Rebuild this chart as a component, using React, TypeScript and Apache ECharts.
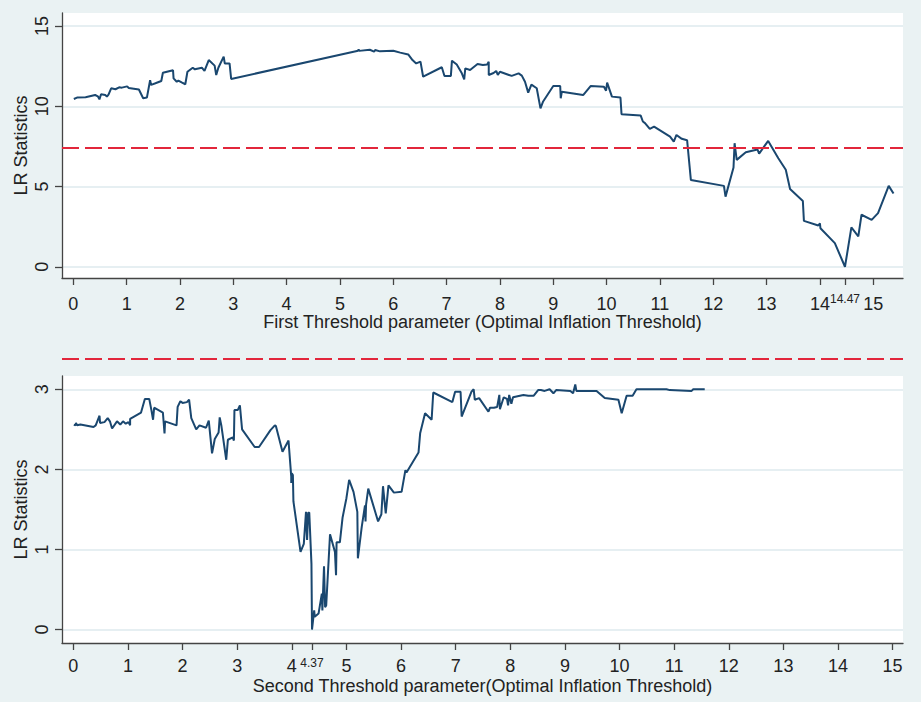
import React, { useEffect, useRef } from "react";
import * as echarts from "echarts";

// ---- Data ----
const firstThreshold = [
  0.01, 0.07, 0.23, 0.41, 0.46, 0.49, 0.52, 0.6, 0.63, 0.66, 0.71, 0.79, 0.86, 0.91, 1.01, 1.04, 1.23, 1.31, 1.38, 1.44,
  1.46, 1.54, 1.65, 1.68, 1.87, 1.88, 1.94, 1.97, 2.04, 2.1, 2.14, 2.24, 2.28, 2.41, 2.46, 2.54, 2.65, 2.68, 2.72, 2.82,
  2.84, 2.93, 2.96, 5.34, 5.35, 5.36, 5.56, 5.64, 5.66, 5.75, 6.0, 6.13, 6.28, 6.36, 6.43, 6.51, 6.56, 6.91, 6.96, 7.08,
  7.1, 7.19, 7.28, 7.33, 7.35, 7.44, 7.58, 7.68, 7.76, 7.79, 7.79, 7.88, 7.93, 7.96, 8.0, 8.22, 8.35, 8.41, 8.47, 8.53,
  8.59, 8.69, 8.76, 8.81, 9.0, 9.13, 9.14, 9.16, 9.56, 9.7, 9.95, 9.99, 10.01, 10.1, 10.26, 10.28, 10.64, 10.68, 10.72,
  10.81, 10.89, 11.19, 11.26, 11.31, 11.41, 11.51, 11.58, 12.2, 12.23, 12.38, 12.4, 12.44, 12.61, 12.83, 12.86, 13.03,
  13.22, 13.36, 13.44, 13.68, 13.7, 13.97, 14.0, 14.01, 14.28, 14.47, 14.59, 14.72, 14.78, 14.97, 15.09, 15.29, 15.38,
];
const firstLR = [
  10.45, 10.54, 10.56, 10.7, 10.62, 10.43, 10.75, 10.7, 10.6, 10.72, 11.12, 11.06, 11.18, 11.16, 11.24, 11.14, 11.04, 10.5,
  10.54, 11.62, 11.33, 11.43, 11.57, 12.09, 12.24, 11.74, 11.53, 11.6, 11.47, 11.37, 12.15, 12.4, 12.3, 12.4, 12.2, 12.88,
  12.53, 11.95, 12.4, 13.09, 12.67, 12.67, 11.7, 13.46, 13.55, 13.45, 13.52, 13.4, 13.5, 13.42, 13.46, 13.34, 13.23, 12.88,
  12.67, 12.78, 11.84, 12.43, 11.89, 11.89, 12.84, 12.6, 12.09, 11.68, 12.36, 12.26, 12.63, 12.57, 12.6, 12.78, 11.95,
  12.07, 12.2, 11.95, 12.15, 11.89, 12.05, 11.91, 11.53, 10.85, 11.35, 11.12, 9.87, 10.3, 11.26, 11.26, 10.5, 10.9, 10.7,
  11.26, 11.22, 10.97, 11.47, 10.6, 10.54, 9.5, 9.42, 9.05, 8.95, 8.59, 8.73, 8.11, 7.8, 8.21, 7.97, 7.88, 5.41, 5.04,
  4.37, 6.18, 7.7, 6.66, 7.14, 7.3, 7.05, 7.84, 6.76, 6.04, 4.85, 4.1, 2.86, 2.57, 2.7, 2.4, 1.47, 0, 2.45, 1.89, 3.24,
  2.92, 3.34, 5.04, 4.56,
];

const secondThreshold = [
  0.01, 0.04, 0.05, 0.07, 0.13, 0.37, 0.41, 0.48, 0.49, 0.57, 0.63, 0.67, 0.71, 0.8, 0.86, 0.91, 0.96, 1.01, 1.04, 1.04,
  1.24, 1.31, 1.39, 1.43, 1.46, 1.48, 1.64, 1.67, 1.68, 1.89, 1.91, 1.96, 2.0, 2.08, 2.12, 2.16, 2.25, 2.31, 2.43, 2.48,
  2.54, 2.59, 2.66, 2.68, 2.71, 2.8, 2.83, 2.92, 2.94, 2.95, 3.01, 3.05, 3.09, 3.32, 3.4, 3.61, 3.69, 3.71, 3.83, 3.94,
  3.99, 3.99, 4.0, 4.02, 4.03, 4.16, 4.22, 4.26, 4.28, 4.3, 4.32, 4.36, 4.37, 4.41, 4.42, 4.49, 4.55, 4.56, 4.59, 4.61,
  4.63, 4.7, 4.79, 4.81, 4.82, 4.88, 4.93, 5.0, 5.05, 5.13, 5.2, 5.21, 5.28, 5.34, 5.35, 5.36, 5.4, 5.58, 5.64, 5.67,
  5.72, 5.77, 5.87, 6.01, 6.08, 6.1, 6.32, 6.35, 6.44, 6.56, 6.59, 6.94, 6.99, 7.09, 7.11, 7.29, 7.33, 7.35, 7.43, 7.6,
  7.63, 7.7, 7.76, 7.8, 7.81, 7.88, 7.94, 7.96, 7.98, 8.02, 8.05, 8.24, 8.33, 8.43, 8.51, 8.56, 8.63, 8.72, 8.79, 8.84,
  9.1, 9.15, 9.19, 9.21, 9.58, 9.73, 9.98, 10.04, 10.13, 10.24, 10.31, 10.86, 10.92, 11.32, 11.35, 11.56,
];
const secondLR = [
  2.56, 2.55, 2.58, 2.55, 2.56, 2.53, 2.55, 2.67, 2.58, 2.59, 2.64, 2.6, 2.51, 2.6, 2.56, 2.6, 2.57, 2.59, 2.55, 2.63,
  2.71, 2.88, 2.88, 2.74, 2.62, 2.77, 2.71, 2.45, 2.6, 2.55, 2.78, 2.85, 2.83, 2.84, 2.87, 2.64, 2.5, 2.55, 2.52, 2.61,
  2.2, 2.38, 2.46, 2.65, 2.55, 2.12, 2.37, 2.4, 2.36, 2.74, 2.74, 2.8, 2.5, 2.28, 2.28, 2.49, 2.55, 2.54, 2.22, 2.36,
  1.91, 1.83, 1.95, 1.93, 1.6, 0.97, 1.07, 1.47, 1.12, 1.46, 1.46, 0.82, 0, 0.24, 0.16, 0.2, 0.45, 0.24, 0.79, 0.28,
  0.3, 1.19, 0.97, 0.68, 1.09, 1.09, 1.4, 1.64, 1.87, 1.72, 1.47, 0.89, 1.28, 1.55, 1.35, 1.56, 1.76, 1.35, 1.44, 1.79,
  1.45, 1.8, 1.71, 1.72, 1.99, 1.96, 2.21, 2.45, 2.7, 2.62, 2.96, 2.84, 2.97, 2.97, 2.66, 2.97, 3.0, 2.87, 2.89, 2.72,
  2.77, 2.77, 2.78, 2.93, 2.75, 2.9, 2.88, 2.8, 2.93, 2.82, 2.9, 2.93, 2.92, 2.92, 2.99, 2.99, 2.98, 3.0, 2.95, 2.99,
  2.98, 2.95, 3.06, 2.98, 2.98, 2.89, 2.87, 2.7, 2.92, 2.92, 3.0, 3.0, 2.99, 2.98, 3.0, 3.0,
];

const xTickValues = [0, 1, 2, 3, 4, 5, 6, 7, 8, 9, 10, 11, 12, 13, 14, 15];
const yTicksFirst = [0, 5, 10, 15];
const yTicksSecond = [0, 1, 2, 3];
const firstEstimate = 14.47;
const secondEstimate = 4.37;
const criticalFirst = 7.39;
const criticalSecond = 3.375;

const xTitleFirst = "First Threshold parameter (Optimal Inflation Threshold)";
const xTitleSecond = "Second Threshold parameter(Optimal Inflation Threshold)";
const yTitle = "LR Statistics";

// ---- Styles ----
const FONT = "Liberation Sans, Arial, sans-serif";
const TEXT = "#222";
const AXIS = "#444";
const LINE = "#1a476f";
const RED = "#e2263b";
const GRIDLINE = "#e6eff2";
const BG = "#eaf2f3";

function zip(xs: number[], ys: number[]) {
  return xs.map((x, i) => [x, ys[i]]);
}

function mainX(gridIndex: number, min: number, max: number, est: number, margin: number, name: string, gap: number) {
  return {
    type: "value",
    gridIndex,
    position: "bottom",
    min,
    max,
    name,
    nameLocation: "middle",
    nameGap: gap,
    nameMoveOverlap: false,
    nameTextStyle: { fontFamily: FONT, fontSize: 18, lineHeight: 14, color: TEXT },
    axisLine: { show: true, onZero: false, lineStyle: { color: AXIS, width: 1.3 } },
    axisTick: { show: true, length: 7, customValues: [...xTickValues, est], lineStyle: { color: AXIS, width: 1.3 } },
    axisLabel: { customValues: xTickValues, margin, fontFamily: FONT, fontSize: 18, lineHeight: 14, color: TEXT },
    splitLine: { show: false },
  };
}

function smallX(gridIndex: number, min: number, max: number, est: number, margin: number) {
  return {
    type: "value",
    gridIndex,
    position: "bottom",
    min,
    max,
    axisLine: { show: false },
    axisTick: { show: false },
    axisLabel: {
      customValues: [est],
      margin,
      fontFamily: FONT,
      fontSize: 12,
      lineHeight: 10,
      color: TEXT,
      formatter: (v: number) => v.toFixed(2),
    },
    splitLine: { show: false },
  };
}

function hiddenX(gridIndex: number, min: number, max: number) {
  return { type: "value", gridIndex, min, max, show: false };
}

function yAx(gridIndex: number, min: number, max: number, ticks: number[]) {
  return {
    type: "value",
    gridIndex,
    min,
    max,
    name: yTitle,
    nameLocation: "middle",
    nameRotate: 90,
    nameGap: 32,
    nameMoveOverlap: false,
    nameTextStyle: { fontFamily: FONT, fontSize: 18, color: TEXT },
    axisLine: { show: true, onZero: false, lineStyle: { color: AXIS, width: 1.3 } },
    axisTick: { show: true, length: 7, customValues: ticks, lineStyle: { color: AXIS, width: 1.3 } },
    axisLabel: { customValues: ticks, rotate: 90, margin: 11, fontFamily: FONT, fontSize: 18, color: TEXT },
    splitLine: { show: true, lineStyle: { color: GRIDLINE, width: 2 } },
  };
}

function critLine(crit: number) {
  return {
    silent: true,
    symbol: "none",
    label: { show: false },
    lineStyle: { color: RED, width: 2, type: [17, 6] },
    data: [{ yAxis: crit }],
  };
}

const TOP_MIN_X = -0.212;
const TOP_MAX_X = 15.558;
const BOT_MIN_X = -0.207;
const BOT_MAX_X = 15.19;
const BOT_MIN_Y = -0.1675;
const BOT_MAX_Y = 3.166;
// overlay grid extends the bottom panel's y-scale upward (same px per unit)
const OVER_TOP = 340;
const BOT_TOP = 376;
const BOT_H = 267;
const OVER_MAX_Y = BOT_MIN_Y + ((BOT_MAX_Y - BOT_MIN_Y) * (BOT_TOP + BOT_H - OVER_TOP)) / BOT_H;

const option = {
  animation: false,
  backgroundColor: BG,
  grid: [
    { left: 62, right: 18, top: 13, height: 265, show: true, backgroundColor: "#fff", borderWidth: 0, outerBoundsMode: "none" },
    { left: 62, right: 18, top: BOT_TOP, height: BOT_H, show: true, backgroundColor: "#fff", borderWidth: 0, outerBoundsMode: "none" },
    { left: 62, right: 18, top: OVER_TOP, height: BOT_TOP + BOT_H - OVER_TOP, show: false, outerBoundsMode: "none" },
  ],
  xAxis: [
    mainX(0, TOP_MIN_X, TOP_MAX_X, firstEstimate, 19, xTitleFirst, 37),
    smallX(0, TOP_MIN_X, TOP_MAX_X, firstEstimate, 16),
    mainX(1, BOT_MIN_X, BOT_MAX_X, secondEstimate, 16, xTitleSecond, 36),
    smallX(1, BOT_MIN_X, BOT_MAX_X, secondEstimate, 15),
    hiddenX(2, BOT_MIN_X, BOT_MAX_X),
  ],
  yAxis: [
    yAx(0, -0.7, 15.81, yTicksFirst),
    yAx(1, BOT_MIN_Y, BOT_MAX_Y, yTicksSecond),
    { type: "value", gridIndex: 2, min: BOT_MIN_Y, max: OVER_MAX_Y, show: false, splitLine: { show: false } },
  ],
  series: [
    {
      type: "line",
      xAxisIndex: 0,
      yAxisIndex: 0,
      data: zip(firstThreshold, firstLR),
      symbol: "none",
      showSymbol: false,
      lineStyle: { color: LINE, width: 2 },
      markLine: critLine(criticalFirst),
    },
    {
      type: "line",
      xAxisIndex: 2,
      yAxisIndex: 1,
      data: zip(secondThreshold, secondLR),
      symbol: "none",
      showSymbol: false,
      lineStyle: { color: LINE, width: 2 },
    },
    {
      type: "line",
      xAxisIndex: 4,
      yAxisIndex: 2,
      data: zip(secondThreshold, secondLR),
      symbol: "none",
      showSymbol: false,
      silent: true,
      lineStyle: { opacity: 0 },
      markLine: critLine(criticalSecond),
    },
  ],
};

export default function App() {
  const ref = useRef<HTMLDivElement>(null);
  useEffect(() => {
    const chart = echarts.init(ref.current!, null, { renderer: "svg" });
    chart.setOption(option as any);
    return () => chart.dispose();
  }, []);
  return <div ref={ref} style={{ position: "absolute", left: 0, top: 0, width: 921, height: 702 }} />;
}
